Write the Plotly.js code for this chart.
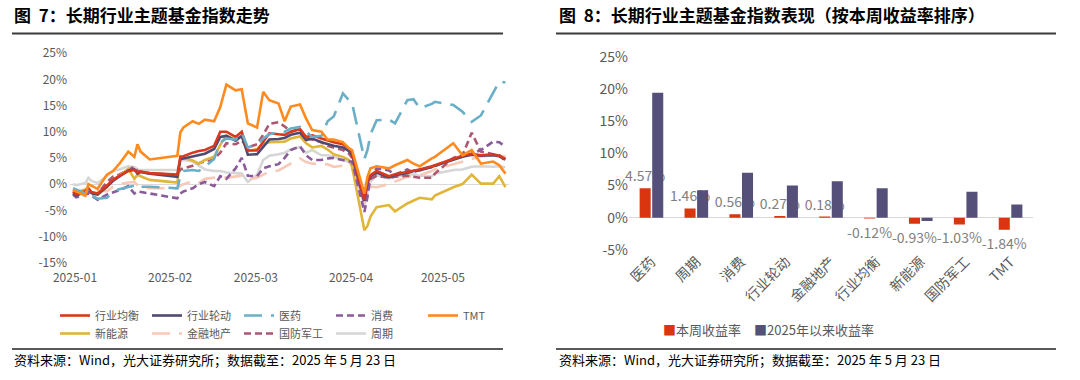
<!DOCTYPE html>
<html>
<head>
<meta charset="utf-8">
<script src="https://cdn.plot.ly/plotly-3.0.1.min.js"></script>
<style>
html,body{margin:0;padding:0;background:#fff;}
#chart{width:1080px;height:380px;}
</style>
</head>
<body>
<div id="chart"></div>
<script>
// ---------- Left chart: 长期行业主题基金指数走势 (%) ----------
const dates = ['2025-01-02','2025-01-03','2025-01-06','2025-01-07','2025-01-08','2025-01-10','2025-01-13','2025-01-15','2025-01-17','2025-01-20','2025-01-22','2025-01-23','2025-01-24','2025-01-27',
'2025-02-05','2025-02-06','2025-02-07','2025-02-10','2025-02-12','2025-02-14','2025-02-17','2025-02-19','2025-02-21','2025-02-24','2025-02-26','2025-02-28',
'2025-03-03','2025-03-05','2025-03-07','2025-03-10','2025-03-12','2025-03-14','2025-03-17','2025-03-19','2025-03-21','2025-03-24','2025-03-26','2025-03-28','2025-03-31',
'2025-04-02','2025-04-03','2025-04-07','2025-04-08','2025-04-09','2025-04-11','2025-04-15','2025-04-17','2025-04-21','2025-04-23','2025-04-25','2025-04-29','2025-04-30',
'2025-05-06','2025-05-09','2025-05-12','2025-05-15','2025-05-19','2025-05-21','2025-05-23'];

const hangyeJunheng = [-1.5,-2.0,-1.3,-0.8,-1.5,-1.8,-0.3,0.8,1.5,2.5,2.7,2.2,2.4,2.1,
1.8,5.2,5.3,6.0,6.3,6.5,7.3,10.0,10.0,9.0,10.0,6.4,
6.4,8.0,9.7,9.5,9.4,10.0,10.5,9.0,9.3,8.7,8.3,8.0,7.6,
6.8,6.0,-3.0,0.5,1.7,2.5,1.5,1.9,2.3,2.6,2.8,3.4,3.6,
4.9,5.4,5.8,5.5,5.7,5.4,4.8];
const hangyeLundong = [-1.8,-2.2,-1.5,-1.0,-1.7,-2.0,-0.5,0.6,1.4,2.6,2.8,2.0,2.3,2.0,
1.4,4.8,4.9,5.3,5.6,5.8,6.7,9.0,9.2,8.3,9.2,5.6,
5.7,7.2,8.5,8.6,8.8,9.4,9.8,8.4,8.7,8.0,7.6,7.3,7.0,
6.3,5.6,-3.2,0.2,1.5,2.2,1.3,1.7,2.1,2.5,2.6,3.3,3.5,
4.7,5.2,5.6,5.4,5.5,5.3,4.7];
const yiyao = [-0.8,-1.0,-1.8,-1.0,-2.2,-2.8,-2.6,-1.5,-1.0,-0.5,-0.3,-0.8,-0.5,-0.5,
-0.8,1.5,2.5,2.7,2.5,3.3,4.8,8.0,8.7,8.5,9.8,7.0,
7.5,8.7,9.5,9.9,10.0,10.6,10.9,10.0,9.0,9.2,12.0,12.9,17.3,
16.0,15.4,4.8,6.5,9.5,12.2,12.3,11.6,16.0,16.2,14.5,15.3,15.7,
15.1,13.8,11.9,13.1,17.3,19.6,19.4];
const xiaofei = [-2.0,-2.5,-2.0,-1.8,-2.2,-3.0,-2.0,-1.6,-1.2,-0.4,-1.8,-1.4,-1.5,-1.8,
-2.7,-1.8,-1.4,-0.8,0.0,0.4,-0.4,1.5,1.0,3.0,5.0,1.6,
1.5,3.0,3.4,3.8,5.0,6.5,7.2,5.5,4.6,4.6,4.9,5.0,4.5,
4.3,4.3,-5.3,-2.5,1.4,3.0,2.6,1.8,2.8,2.2,2.8,3.2,3.4,
4.9,5.2,5.8,6.5,8.1,8.0,7.1];
const tmt = [-1.1,-1.4,-2.2,0.0,-0.3,-0.9,1.8,2.5,3.8,6.2,5.2,7.6,6.2,4.7,
5.4,9.9,10.8,12.0,11.5,12.3,12.0,14.7,19.0,17.9,18.1,11.6,
10.8,17.6,16.0,15.4,12.0,14.8,15.2,12.5,10.3,10.0,8.5,8.5,8.0,
6.8,6.5,-1.8,1.4,3.0,3.4,3.0,3.6,4.6,3.9,3.4,4.9,5.2,
7.8,5.5,6.5,3.9,4.3,3.6,2.0];
const xinnengyuan = [-1.2,-1.8,-1.0,-0.8,-1.6,-2.0,-0.6,0.8,1.6,2.9,1.0,1.8,1.5,0.8,
0.3,5.3,5.0,4.5,3.9,4.6,5.2,7.5,9.3,8.5,9.2,6.3,
6.7,7.6,8.0,8.1,8.1,8.7,9.1,7.8,7.0,7.3,6.6,5.7,5.2,
4.6,3.3,-8.8,-8.0,-6.2,-4.4,-4.0,-5.2,-3.7,-3.2,-2.6,-2.9,-2.2,
-0.6,0.0,1.8,0.1,0.1,1.5,-0.6];
const jinrongDichan = [-1.0,-1.5,-1.0,-0.5,-1.0,-1.2,-1.4,-0.5,0.0,0.3,0.4,-0.2,-0.5,-0.8,
-0.8,-0.3,0.0,0.5,0.2,1.0,1.2,1.4,1.2,1.5,1.6,0.9,
1.2,1.8,2.3,2.6,3.2,3.9,4.9,4.2,3.9,3.9,3.8,3.3,3.5,
3.2,3.0,-3.7,-1.5,-0.5,-0.6,0.0,0.5,1.4,1.5,1.7,2.5,2.8,
3.8,4.3,4.8,5.3,5.5,5.4,5.3];
const guofangJungong = [-1.5,-2.0,-2.0,-1.5,-2.0,-1.8,0.3,1.4,1.8,2.7,3.3,2.5,2.4,2.0,
1.8,2.8,3.0,3.5,4.0,4.3,4.8,6.0,7.8,7.6,8.3,7.0,
7.6,9.4,11.5,11.8,11.0,10.0,10.5,8.8,8.5,8.0,7.3,7.0,6.5,
5.8,5.0,-3.5,-0.5,1.0,1.6,1.2,1.4,1.6,1.4,1.2,1.2,2.0,
5.0,5.5,9.8,6.2,5.7,5.5,4.4];
const zhouqi = [0.0,-0.2,0.2,1.2,0.6,0.2,1.5,2.5,2.8,3.4,3.2,2.8,2.7,2.7,
2.7,4.5,4.6,4.3,3.6,2.8,2.5,2.5,2.2,2.0,2.0,0.4,
1.8,4.6,5.4,5.7,6.0,6.6,7.1,6.0,6.5,5.5,5.5,5.2,4.6,
4.2,4.0,-4.0,-1.5,0.5,1.7,1.1,1.4,1.7,1.9,1.6,1.5,2.0,
2.7,2.8,3.3,3.4,3.3,3.4,3.2];

const lineNames = ['行业均衡','行业轮动','医药','消费','TMT','新能源','金融地产','国防军工','周期'];
const monthTicks = ['2025-01-01','2025-02-01','2025-03-01','2025-04-01','2025-05-01'];
const monthLabels = ['2025-01','2025-02','2025-03','2025-04','2025-05'];
const leftYTicks = [-15,-10,-5,0,5,10,15,20,25];

// ---------- Right chart: 长期行业主题基金指数表现 (%) ----------
const barCategories = ['医药','周期','消费','行业轮动','金融地产','行业均衡','新能源','国防军工','TMT'];
const weekReturn = [4.57,1.46,0.56,0.27,0.18,-0.12,-0.93,-1.03,-1.84];
const ytdReturn = [19.4,4.29,7.0,5.0,5.68,4.6,-0.5,4.03,2.07];
const barNames = ['本周收益率','2025年以来收益率'];
const rightYTicks = [-5,0,5,10,15,20,25];

// ---------- helpers ----------
const W = 1080, H = 380;
const px = x => x / W;
const py = y => 1 - y / H;
const FONT = '"Noto Sans CJK SC", "Noto Sans", sans-serif';
const GREY = '#595959';
const pct = v => v + '%';

const seriesData = [hangyeJunheng, hangyeLundong, yiyao, xiaofei, tmt, xinnengyuan, jinrongDichan, guofangJungong, zhouqi];
const styles = [
  {color:'#D9381E', dash:'solid', legend:'legend'},
  {color:'#4E4A72', dash:'solid', legend:'legend'},
  {color:'#6AAFC8', dash:'18px,9px', legend:'legend'},
  {color:'#8B5A9B', dash:'7px,4px', legend:'legend'},
  {color:'#FF8A1E', dash:'solid', legend:'legend'},
  {color:'#E0B53A', dash:'solid', legend:'legend2'},
  {color:'#F9C8B6', dash:'18px,9px', legend:'legend2'},
  {color:'#AE5670', dash:'7px,4px', legend:'legend2'},
  {color:'#D6D6D6', dash:'solid', legend:'legend2'}
];
const drawOrder = [8,6,7,5,3,1,0,2,4];

const traces = [];
drawOrder.forEach(i => {
  traces.push({
    type:'scatter', mode:'lines', name: lineNames[i],
    x: dates, y: seriesData[i], xaxis:'x', yaxis:'y',
    line:{color:styles[i].color, width:2.6, dash:styles[i].dash},
    legend: styles[i].legend, legendrank: i + 1,
    hoverinfo:'skip'
  });
});

traces.push({
  type:'bar', name: barNames[0], x: barCategories, y: weekReturn,
  xaxis:'x2', yaxis:'y2', marker:{color:'#D9360F'},
  text: weekReturn.map(v => v.toFixed(2) + '%'), textposition:'outside', constraintext:'none', cliponaxis:false,
  textfont:{size:14, color:'#808080', family:FONT},
  showlegend:false, hoverinfo:'skip'
});
traces.push({
  type:'bar', name: barNames[1], x: barCategories, y: ytdReturn,
  xaxis:'x2', yaxis:'y2', marker:{color:'#55507A'},
  showlegend:false, hoverinfo:'skip'
});

const legendCommon = {
  orientation:'h', xanchor:'left', yanchor:'middle',
  entrywidth:47, entrywidthmode:'pixels', bgcolor:'rgba(0,0,0,0)',
  font:{size:11, color:GREY, family:FONT}, traceorder:'normal', tracegroupgap:0
};

const layout = {
  width: W, height: H,
  margin:{l:0, r:0, t:0, b:0},
  paper_bgcolor:'#ffffff', plot_bgcolor:'rgba(0,0,0,0)',
  font:{family:FONT, color:GREY},
  showlegend:true,
  barmode:'group', bargap:0.44, bargroupgap:0.12,
  xaxis:{
    type:'date', domain:[px(70), px(508.5)], anchor:'y',
    range:['2025-01-01','2025-05-24'],
    tickmode:'array', tickvals: monthTicks, ticktext: monthLabels, ticklabelshift:5, ticklabelstandoff:6,
    showgrid:false, zeroline:false, showline:false, ticks:'',
    tickfont:{size:12, color:GREY}
  },
  yaxis:{
    domain:[py(262.7), py(53.1)], anchor:'x',
    range:[-15,25], tickmode:'array', tickvals: leftYTicks, ticktext: leftYTicks.map(pct),
    ticklabelstandoff:2,
    showgrid:false, zeroline:true, zerolinecolor:'#D9D9D9', zerolinewidth:1,
    showline:false, ticks:'', tickfont:{size:12, color:GREY}
  },
  xaxis2:{
    type:'category', domain:[px(629), px(1033)], anchor:'y2',
    showgrid:false, zeroline:false, showline:false, ticks:'',
    tickangle:-45, tickfont:{size:14, color:GREY}
  },
  yaxis2:{
    domain:[py(250), py(56.7)], anchor:'x2',
    range:[-5,25], tickmode:'array', tickvals: rightYTicks, ticktext: rightYTicks.map(pct),
    showgrid:false, zeroline:true, zerolinecolor:'#D9D9D9', zerolinewidth:1.2,
    showline:false, ticks:'', tickfont:{size:14, color:GREY}
  },
  legend: Object.assign({}, legendCommon, {x:px(55), y:py(315.5)}),
  legend2: Object.assign({}, legendCommon, {x:px(55), y:py(333.5)}),
  shapes:[
    {type:'line', xref:'paper', yref:'paper', x0:px(12), x1:px(503), y0:py(33.5), y1:py(33.5), line:{color:'#3A3A3A', width:2}},
    {type:'line', xref:'paper', yref:'paper', x0:px(556), x1:px(1056), y0:py(33.5), y1:py(33.5), line:{color:'#3A3A3A', width:2}},
    {type:'line', xref:'paper', yref:'paper', x0:px(12), x1:px(503), y0:py(349), y1:py(349), line:{color:'#222222', width:1.5}},
    {type:'line', xref:'paper', yref:'paper', x0:px(556), x1:px(1056), y0:py(349), y1:py(349), line:{color:'#222222', width:1.5}}
  ],
  annotations:[
    {xref:'paper', yref:'paper', x:px(12), y:py(14), xanchor:'left', yanchor:'middle', showarrow:false,
     text:'<b>图  7：长期行业主题基金指数走势</b>', font:{size:17, color:'#000000', family:FONT}},
    {xref:'paper', yref:'paper', x:px(557), y:py(14), xanchor:'left', yanchor:'middle', showarrow:false,
     text:'<b>图  8：长期行业主题基金指数表现（按本周收益率排序）</b>', font:{size:17, color:'#000000', family:FONT}},
    {xref:'paper', yref:'paper', x:px(12), y:py(359), xanchor:'left', yanchor:'middle', showarrow:false,
     text:'资料来源：Wind，光大证券研究所；数据截至：2025 年 5 月 23 日', font:{size:13, color:'#000000', family:FONT}},
    {xref:'paper', yref:'paper', x:px(557), y:py(359), xanchor:'left', yanchor:'middle', showarrow:false,
     text:'资料来源：Wind，光大证券研究所；数据截至：2025 年 5 月 23 日', font:{size:13, color:'#000000', family:FONT}},
    {xref:'paper', yref:'paper', x:px(661), y:py(329), xanchor:'left', yanchor:'middle', showarrow:false,
     text:'<span style="color:#D9360F">■</span>' + barNames[0], font:{size:13, color:GREY, family:FONT}},
    {xref:'paper', yref:'paper', x:px(752), y:py(329), xanchor:'left', yanchor:'middle', showarrow:false,
     text:'<span style="color:#55507A">■</span>' + barNames[1], font:{size:13, color:GREY, family:FONT}}
  ]
};

Plotly.newPlot('chart', traces, layout, {displayModeBar:false, staticPlot:true});
</script>
</body>
</html>
